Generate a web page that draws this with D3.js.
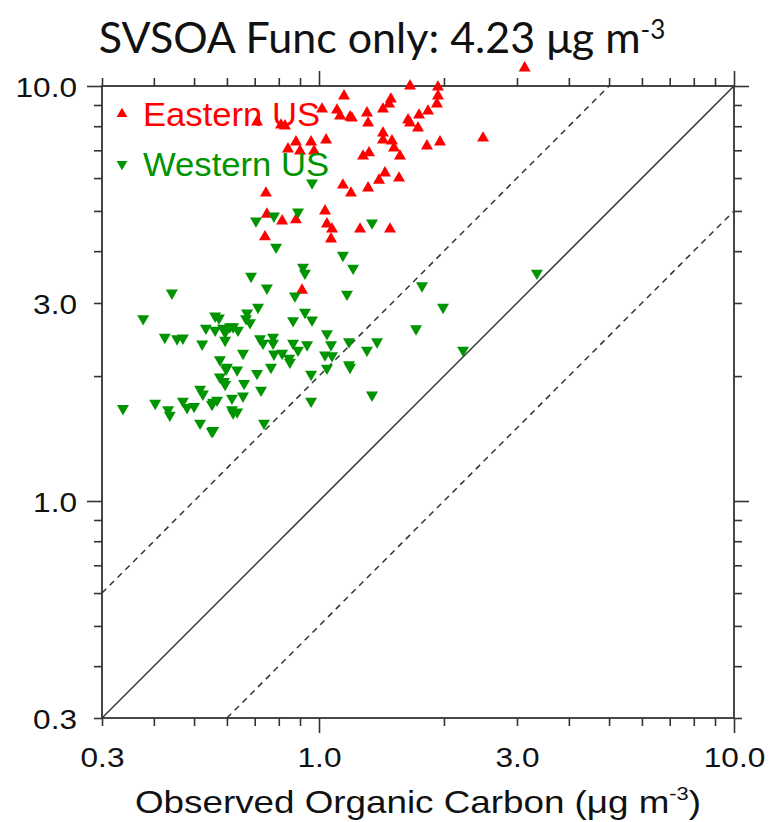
<!DOCTYPE html>
<html>
<head>
<meta charset="utf-8">
<script src="https://cdn.jsdelivr.net/npm/d3@7"></script>
<style>
  body { margin: 0; background: #fff; }
  text { font-family: "Liberation Sans", Arial, Helvetica, sans-serif; }
</style>
</head>
<body>
<div id="chart"></div>
<script>
// Observed vs modelled OC, log-log, with 1:1 and 2:1 / 1:2 lines

// Eastern US sites (observed, model)
const eastObs = [1.657, 1.935, 1.935, 1.924, 1.149, 1.49, 1.475, 1.426, 1.017, 1.105,
  1.124, 1.188, 1.20, 1.305, 1.313, 1.831, 1.742, 1.639, 1.657, 1.732,
  0.709, 0.810, 0.828, 2.485, 1.820, 1.957, 1.426, 1.426, 1.499, 1.516,
  1.567, 1.277, 1.32, 1.04, 0.957, 0.973, 0.880, 0.842, 0.900, 1.442,
  1.395, 1.559, 1.142, 1.313, 1.194, 0.745, 0.749, 0.815, 0.880, 0.741,
  1.034, 1.045, 1.075, 1.069, 1.256, 1.483, 0.910, 3.13];
const eastMod = [10.0, 9.94, 9.46, 9.05, 9.46, 9.30, 9.05, 8.80, 8.80, 8.75,
  8.47, 8.42, 8.37, 8.61, 8.14, 8.70, 8.51, 8.28, 8.14, 7.92,
  8.19, 8.05, 8.01, 7.49, 7.17, 7.33, 7.70, 7.41, 7.37, 7.09,
  6.78, 6.78, 6.90, 7.41, 7.33, 6.97, 7.33, 7.05, 6.97, 6.17,
  5.93, 6.00, 5.77, 5.68, 5.52, 5.52, 4.91, 4.73, 4.76, 4.33,
  5.00, 4.65, 4.52, 4.28, 4.52, 4.52, 3.22, 11.05];

// Western US sites (observed, model)
const westObs = [0.962, 0.705, 0.779, 0.890, 1.342, 0.788, 1.142, 1.208, 0.915, 0.925,
  0.686, 0.749, 0.875, 1.168, 1.771, 1.990, 0.442, 0.377, 0.713, 0.562,
  0.574, 0.671, 0.667, 0.682, 0.866, 0.925, 0.962, 0.534, 0.562, 0.587,
  0.594, 0.610, 0.621, 0.638, 0.594, 0.425, 0.455, 0.470, 0.523, 0.721,
  0.733, 0.775, 0.775, 0.866, 0.890, 0.936, 1.045, 1.069, 1.181, 1.305,
  1.380, 1.713, 2.224, 0.656, 0.779, 0.815, 0.847, 0.851, 1.034, 1.075,
  1.181, 1.188, 0.577, 0.600, 0.597, 0.635, 0.766, 1.045, 0.957, 0.709,
  0.577, 0.590, 0.594, 0.660, 0.517, 0.525, 0.725, 0.656, 1.342, 0.957,
  0.617, 0.470, 0.481, 0.500, 0.556, 0.568, 0.552, 0.403, 0.337, 0.433,
  0.437, 0.617, 0.635, 0.621, 0.517, 0.737, 0.552, 0.556, 3.35];
const westMod = [5.84, 4.73, 4.86, 4.97, 4.68, 4.09, 3.91, 3.64, 3.66, 3.54,
  3.48, 3.26, 3.12, 3.15, 3.30, 2.93, 3.17, 2.75, 2.93, 2.79,
  2.76, 2.84, 2.75, 2.69, 2.72, 2.85, 2.73, 2.61, 2.58, 2.61,
  2.55, 2.63, 2.63, 2.58, 2.44, 2.48, 2.46, 2.47, 2.39, 2.46,
  2.40, 2.48, 2.40, 2.40, 2.31, 2.38, 2.53, 2.38, 2.42, 2.31,
  2.42, 2.60, 2.31, 2.27, 2.26, 2.27, 2.21, 2.16, 2.25, 2.24,
  2.13, 2.10, 2.19, 2.10, 2.08, 2.07, 2.10, 2.09, 2.02, 2.03,
  1.99, 1.94, 1.91, 1.92, 1.86, 1.81, 1.85, 1.79, 1.80, 1.74,
  1.77, 1.74, 1.68, 1.69, 1.73, 1.75, 1.71, 1.72, 1.67, 1.66,
  1.61, 1.66, 1.64, 1.63, 1.54, 1.54, 1.47, 1.48, 3.54];

// axis ticks
const labelTicks = [0.3, 1, 3, 10];
const majorTicks = [1, 10];
const minorTicks = [0.3, 0.4, 0.5, 0.6, 0.7, 0.8, 0.9, 2, 3, 4, 5, 6, 7, 8, 9];
// reference lines: model = ratio * observed
const refRatios = [1, 2, 0.5];
const seriesNames = ["Eastern US", "Western US"];

const width = 770;
const height = 822;
const plot = { left: 102, right: 734, top: 86, bottom: 718 };
const red = "#ff0000";
const green = "#009400";
const axisColor = "#333";
const stretch = 1.17; // tick/axis text in the original is a bit wide

const svg = d3
  .select("#chart")
  .append("svg")
  .attr("width", width)
  .attr("height", height);

const x = d3.scaleLog().domain([0.3, 10]).range([plot.left, plot.right]);
const y = d3.scaleLog().domain([0.3, 10]).range([plot.bottom, plot.top]);

// Title
const title = svg
  .append("text")
  .attr("x", 382)
  .attr("y", 53)
  .attr("text-anchor", "middle")
  .style("font-family", "Lato, 'Open Sans', sans-serif")
  .style("font-size", "43px")
  .attr("fill", "#111");
title.append("tspan").text("SVSOA Func only: 4.23 \u03bcg m");
title.append("tspan").attr("dy", "-0.55em").style("font-size", "26px").text("-3");

// Reference lines
const [d0, d1] = x.domain();
refRatios.forEach((r) => {
  // clip the line to the plot box
  const xa = Math.max(d0, d0 / r);
  const xb = Math.min(d1, d1 / r);
  svg
    .append("line")
    .attr("x1", x(xa))
    .attr("y1", y(xa * r))
    .attr("x2", x(xb))
    .attr("y2", y(xb * r))
    .attr("stroke", axisColor)
    .attr("stroke-width", 1.5)
    .attr("stroke-dasharray", r === 1 ? null : "6,5");
});

// Ticks, outward on all four sides
function tickAxis(axisFn, scale, values, size, transform) {
  const g = svg
    .append("g")
    .attr("transform", transform)
    .call(axisFn(scale).tickValues(values).tickSize(size).tickFormat(""));
  g.select(".domain").remove();
  g.selectAll("line").attr("stroke", axisColor).attr("stroke-width", 1.6);
}
[[minorTicks, 8], [majorTicks, 15]].forEach(([vals, size]) => {
  tickAxis(d3.axisBottom, x, vals, size, `translate(0,${plot.bottom})`);
  tickAxis(d3.axisTop, x, vals, size, `translate(0,${plot.top})`);
  tickAxis(d3.axisLeft, y, vals, size, `translate(${plot.left},0)`);
  tickAxis(d3.axisRight, y, vals, size, `translate(${plot.right},0)`);
});

// Frame
svg
  .append("rect")
  .attr("x", plot.left)
  .attr("y", plot.top)
  .attr("width", plot.right - plot.left)
  .attr("height", plot.bottom - plot.top)
  .attr("fill", "none")
  .attr("stroke", axisColor)
  .attr("stroke-width", 1.8);

// Tick labels
const fmt = d3.format(".1f");
const xLab = svg
  .append("g")
  .attr("transform", `translate(0,${plot.bottom})`)
  .call(d3.axisBottom(x).tickValues(labelTicks).tickSize(0).tickPadding(30).tickFormat(fmt));
const yLab = svg
  .append("g")
  .attr("transform", `translate(${plot.left},0)`)
  .call(d3.axisLeft(y).tickValues(labelTicks).tickSize(0).tickFormat(fmt));
[xLab, yLab].forEach((g) => {
  g.select(".domain").remove();
  g.selectAll("text")
    .attr("font-family", null)
    .attr("font-size", null)
    .style("font-size", "27px")
    .attr("fill", "#111")
    .attr("transform", `scale(${stretch},1)`);
});
xLab.selectAll("text").attr("x", 0);
yLab.selectAll("text").attr("x", -25 / stretch).attr("dy", "0.38em");

// X axis title
const xTitle = svg
  .append("text")
  .attr("transform", `translate(${(plot.left + plot.right) / 2},813) scale(1.15,1)`)
  .attr("text-anchor", "middle")
  .style("font-size", "32px")
  .attr("fill", "#111");
xTitle.append("tspan").text("Observed Organic Carbon (\u03bcg m");
xTitle.append("tspan").attr("dy", -13).style("font-size", "19px").text("-3");
xTitle.append("tspan").attr("dy", 13).text(")");

// Points
const upTri = d3.symbol(d3.symbolTriangle, 62);
svg
  .append("g")
  .selectAll("path")
  .data(d3.zip(eastObs, eastMod))
  .join("path")
  .attr("d", upTri)
  .attr("transform", (d) => `translate(${x(d[0])},${y(d[1])})`)
  .attr("fill", red);

svg
  .append("g")
  .selectAll("path")
  .data(d3.zip(westObs, westMod))
  .join("path")
  .attr("d", upTri)
  .attr("transform", (d) => `translate(${x(d[0])},${y(d[1])}) rotate(180)`)
  .attr("fill", green);

// Legend
const legend = svg
  .selectAll(".legend")
  .data(seriesNames)
  .join("g")
  .attr("class", "legend")
  .attr("transform", (d, i) => `translate(122,${114 + i * 50})`);

legend
  .append("path")
  .attr("d", d3.symbol(d3.symbolTriangle, 50))
  .attr("transform", (d, i) => (i === 1 ? "rotate(180)" : null))
  .attr("fill", (d, i) => (i === 0 ? red : green));

legend
  .append("text")
  .attr("x", 20)
  .attr("y", 12)
  .attr("transform", "scale(1.05,1)")
  .style("font-size", "33px")
  .attr("fill", (d, i) => (i === 0 ? red : green))
  .text((d) => d);
</script>
</body>
</html>
